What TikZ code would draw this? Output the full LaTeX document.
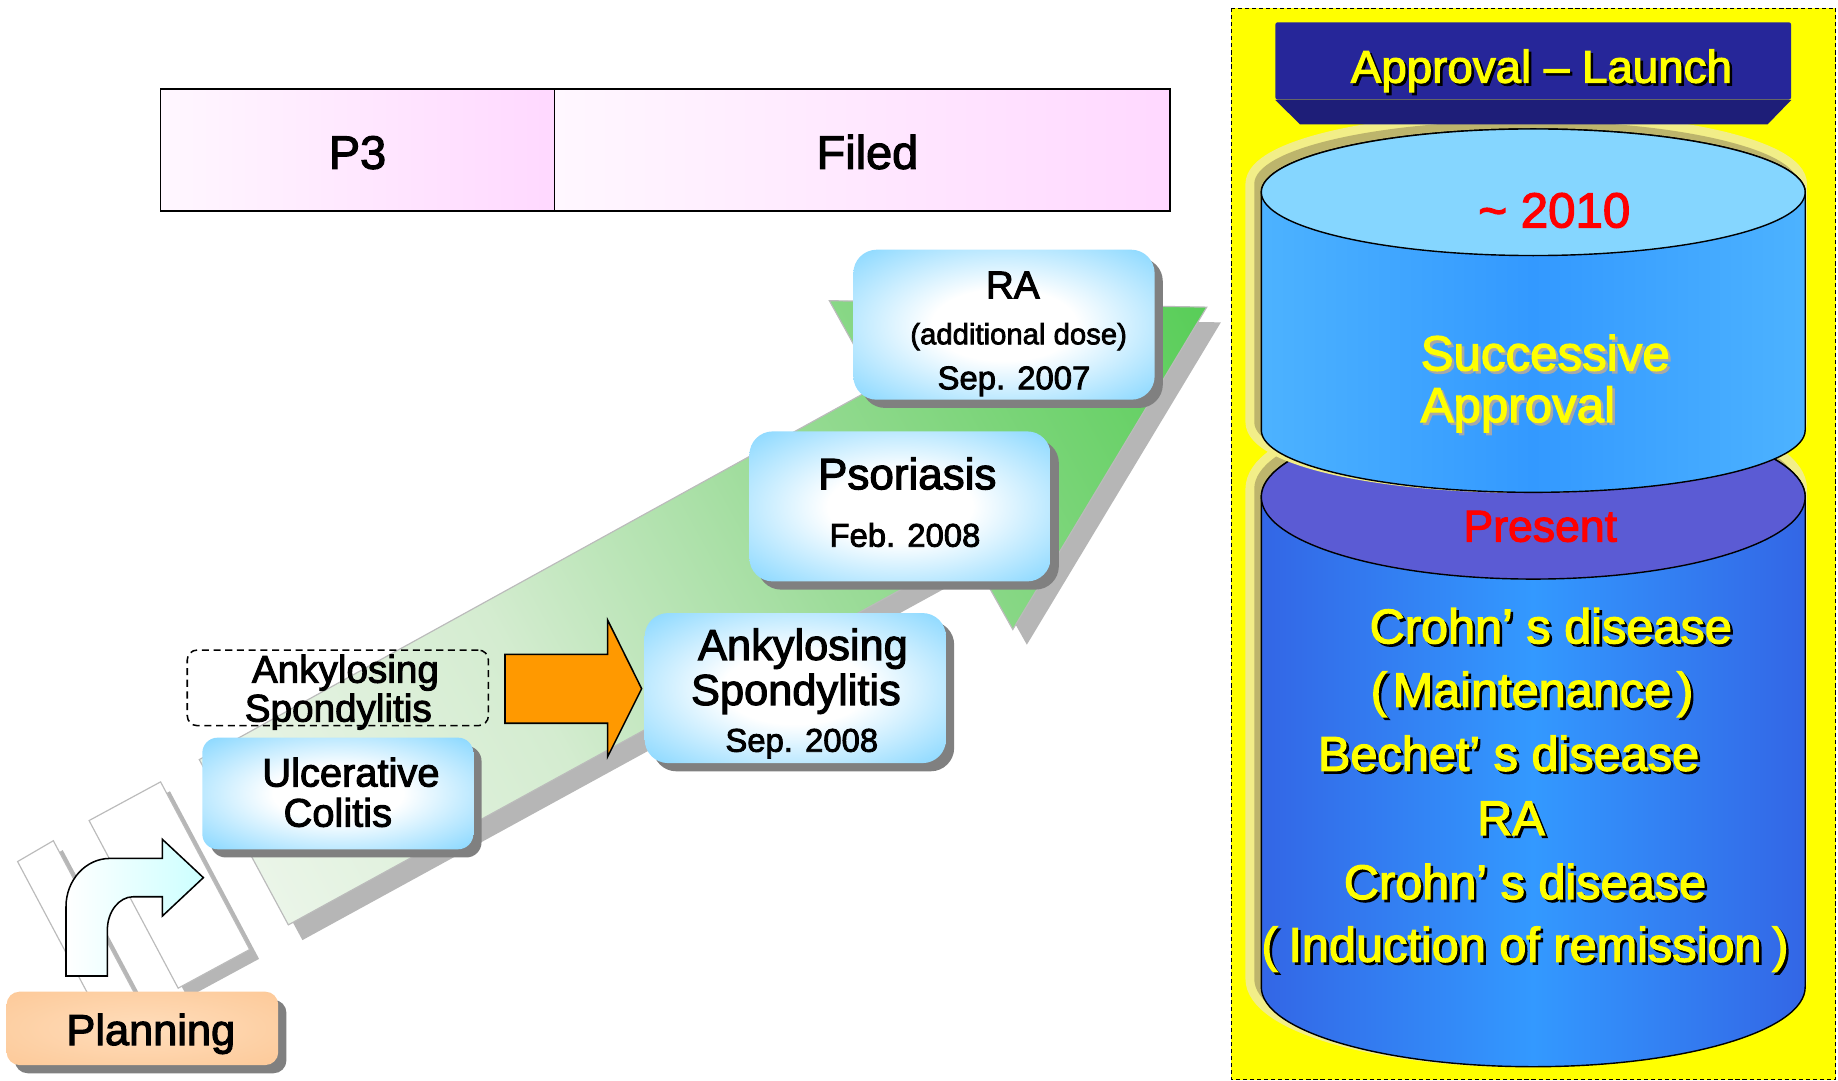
\documentclass[tikz,border=0pt]{standalone}
\usepackage{fontspec}
\setmainfont{Liberation Sans}[FakeBold=2.5]
\usetikzlibrary{shadows}

\definecolor{skyb}{HTML}{66CCFF}
\definecolor{pinkc}{HTML}{FFCCFF}
\definecolor{bandA}{HTML}{F4FAF2}
\definecolor{bandB}{HTML}{EDF6EB}
\definecolor{bandC}{HTML}{D4ECD0}
\definecolor{bandD}{HTML}{9DDC9A}
\definecolor{bandE}{HTML}{7CD57A}
\definecolor{bandF}{HTML}{50CC50}
\definecolor{bandgreen}{HTML}{33CC33}
\definecolor{softshadow}{HTML}{B6B6B6}
\definecolor{boxshadow}{HTML}{808080}
\definecolor{peach}{HTML}{FCC795}
\definecolor{peachlt}{HTML}{FFDDBB}
\definecolor{orangef}{HTML}{FF9900}
\definecolor{cupedge}{HTML}{66CCFF}
\definecolor{cupmid}{HTML}{3399FF}
\definecolor{cuptop}{HTML}{85D6FF}
\definecolor{cloedge}{HTML}{3333CC}
\definecolor{clomid}{HTML}{3399FF}
\definecolor{clotop}{HTML}{5B5BD4}
\definecolor{bannertop}{HTML}{262699}
\definecolor{bannerbevel}{HTML}{1E1E78}
\definecolor{khaki}{HTML}{BDB56C}
\definecolor{rim}{HTML}{F2EE88}
\definecolor{ylw}{HTML}{FFFF00}
\definecolor{redt}{HTML}{FF0000}
\definecolor{lightcyan}{HTML}{CCFFFF}
\definecolor{edgegray}{HTML}{BBBBBB}
\definecolor{succshadow}{HTML}{A8A8A8}

\pgfdeclareradialshading{boxglow}{\pgfpointorigin}{color(0bp)=(white); color(12bp)=(white); color(42bp)=(skyb); color(50bp)=(skyb)}
\pgfdeclareradialshading{peachglow}{\pgfpointorigin}{color(0bp)=(peachlt); color(40bp)=(peach); color(50bp)=(peach)}
\pgfdeclarehorizontalshading{pinkgrad}{100bp}{color(0bp)=(white); color(12bp)=(white); color(95bp)=(pinkc); color(100bp)=(pinkc)}
\pgfdeclarehorizontalshading{cylup}{100bp}{color(0bp)=(cupedge); color(50bp)=(cupmid); color(100bp)=(cupedge)}
\pgfdeclarehorizontalshading{cyllow}{100bp}{color(0bp)=(cloedge); color(50bp)=(clomid); color(100bp)=(cloedge)}
\pgfdeclareverticalshading{bandgrad}{100bp}{color(0bp)=(bandA); color(18bp)=(bandB); color(39bp)=(bandC); color(57bp)=(bandD); color(70bp)=(bandE); color(87bp)=(bandF); color(100bp)=(bandgreen)}

\newcommand{\fs}[1]{\fontsize{#1pt}{#1pt}\selectfont}
% name, x, y, size, shadow colour, text, anchor
\newcommand{\shlabel}[7]{%
  \node[lbl, anchor=#7, font=\fs{#4}, text=#5] (#1-sh) at (#2+2.2, #3+2.2) {#6};
  \node[lbl, anchor=#7, font=\fs{#4}, text=ylw] (#1) at (#2, #3) {#6};}

\begin{document}
\begin{tikzpicture}[x=1pt,y=-1pt,
  lbl/.style={anchor=base, inner sep=0pt, outer sep=0pt},
  bluebox/.style={shade, shading=boxglow, rounded corners=20pt, inner sep=0pt, outer sep=0pt,
     minimum width=257pt, minimum height=128pt,
     general shadow={fill=boxshadow, shadow xshift=7pt, shadow yshift=-7pt}},
  cell/.style={draw=black, line width=1.4pt, shade, shading=pinkgrad, inner sep=0pt, minimum height=104pt},
  pagerect/.style={fill=white, draw=edgegray, line width=1pt},
  softsh/.style={fill=softshadow},
  cylline/.style={draw=black, line width=1.2pt},
]
\useasboundingbox (0,0) rectangle (1568,922);

% ---------- phase bar ----------
\node[cell, minimum width=336pt] (p3box) at (305,128) {};
\node[cell, minimum width=525pt] (filedbox) at (735.5,128) {};
\node[lbl, font=\fs{40}] (p3t) at (305,144) {P3};
\node[lbl, font=\fs{40}] (filedt) at (740,144) {Filed};

% ---------- faded page rectangles ----------
\fill[softsh, shift={(8,8)}] (15,735) -- (45.5,717.2) -- (121.5,860) -- (91,878) -- cycle;
\draw[pagerect] (15,735) -- (45.5,717.2) -- (121.5,860) -- (91,878) -- cycle;
\fill[softsh, shift={(8,8)}] (76,700) -- (137,667) -- (213,810) -- (152,843) -- cycle;
\draw[pagerect] (76,700) -- (137,667) -- (213,810) -- (152,843) -- cycle;

% ---------- big green arrow ----------
\fill[softsh, shift={(12,13)}] (170,648) -- (748,329.5) -- (707.5,256.5) -- (1029.5,262) -- (864,537) -- (827,471) -- (246,789) -- cycle;
\shade[shading=bandgrad, shading angle=-61.1, draw=edgegray, line width=1pt]
  (170,648) -- (748,329.5) -- (707.5,256.5) -- (1029.5,262) -- (864,537) -- (827,471) -- (246,789) -- cycle;

% ---------- bent arrow ----------
\shade[left color=white, right color=lightcyan, draw=black, line width=1.3pt, line join=miter]
  (56.3,832.6) -- (56.3,773.5) .. controls (56.3,750.8) and (73.1,732.3) .. (93.8,732.3)
  -- (138.5,732.3) -- (138.5,716) -- (173.5,748.7) -- (138.5,781.5) -- (138.5,765)
  -- (113.7,765) .. controls (101.5,765) and (91.6,777.7) .. (91.6,793.4) -- (91.6,832.6) -- cycle;

% ---------- Planning ----------
\node[shade, shading=peachglow, rounded corners=11pt, minimum width=231.7pt, minimum height=62.6pt,
      inner sep=0pt, general shadow={fill=boxshadow, shadow xshift=7pt, shadow yshift=-7pt}]
      (planbox) at (121.5,877.3) {};
\node[lbl, font=\fs{37}] (plant) at (128.7,891.5) {Planning};

% ---------- Ulcerative Colitis ----------
\node[bluebox, rounded corners=13pt, minimum width=231.2pt, minimum height=95.2pt] (ucbox) at (288.2,676.9) {};
\node[lbl, font=\fs{34}] (uct1) at (299.4,671) {Ulcerative};
\node[lbl, font=\fs{34}] (uct2) at (288.2,705.2) {Colitis};

% ---------- dashed Ankylosing Spondylitis ----------
\node[draw, line width=1.3pt, dash pattern=on 6pt off 4pt, rounded corners=8.5pt,
      minimum width=256.9pt, minimum height=64.5pt, inner sep=0pt] (asdash) at (288.2,586.8) {};
\node[lbl, font=\fs{33}] (asd1) at (294.7,582.4) {Ankylosing};
\node[lbl, font=\fs{33}] (asd2) at (288.6,615.6) {Spondylitis};

% ---------- orange block arrow ----------
\draw[fill=orangef, line width=1.3pt, line join=miter]
  (430.8,558.2) -- (518.4,558.2) -- (518.4,529) -- (547.4,587.5) -- (518.4,645.5) -- (518.4,617) -- (430.8,617) -- cycle;

% ---------- filed items ----------
\node[bluebox] (asbox) at (678.5,587) {};
\node[lbl, font=\fs{37}] (ast1) at (685,563) {Ankylosing};
\node[lbl, font=\fs{37}] (ast2) at (679,601.4) {Spondylitis};
\node[lbl, font=\fs{28}] (ast3) at (684,641.3) {Sep. 2008};

\node[bluebox] (psbox) at (767.8,432) {};
\node[lbl, font=\fs{37.5}] (pst1) at (774,417.4) {Psoriasis};
\node[lbl, font=\fs{28}] (pst2) at (772,466.4) {Feb. 2008};

\node[bluebox] (rabox) at (856.5,277) {};
\node[lbl, font=\fs{33}] (rat1) at (864,254.5) {RA};
\node[lbl, font=\fs{25}] (rat2) at (869,293.7) {(additional dose)};
\node[lbl, font=\fs{28}] (rat3) at (865,332.1) {Sep. 2007};

% ---------- Approval - Launch panel ----------
\draw[fill=ylw, line width=1.2pt, dash pattern=on 3.5pt off 2.5pt] (1050.5,7) rectangle (1566,921);

% lower cylinder (present)
\begin{scope}[shift={(-6,-7)}]
  \fill[khaki, preaction={draw=rim, line width=15pt}]
    (1076,424) -- (1076,842) arc[start angle=180, end angle=0, x radius=232, y radius=68]
    -- (1540,424) arc[start angle=0, end angle=-180, x radius=232, y radius=70] -- cycle;
\end{scope}
\shade[shading=cyllow, cylline]
  (1076,424) -- (1076,842) arc[start angle=180, end angle=0, x radius=232, y radius=68]
  -- (1540,424) arc[start angle=0, end angle=-180, x radius=232, y radius=70] -- cycle;
\draw[cylline, fill=clotop] (1308,424) ellipse [x radius=232, y radius=70];

% upper cylinder (~2010)
\begin{scope}[shift={(-6,-7)}]
  \fill[khaki, preaction={draw=rim, line width=15pt}]
    (1076,164) -- (1076,367) arc[start angle=180, end angle=0, x radius=232, y radius=53]
    -- (1540,164) arc[start angle=0, end angle=-180, x radius=232, y radius=54] -- cycle;
\end{scope}
\shade[shading=cylup, cylline]
  (1076,164) -- (1076,367) arc[start angle=180, end angle=0, x radius=232, y radius=53]
  -- (1540,164) arc[start angle=0, end angle=-180, x radius=232, y radius=54] -- cycle;
\draw[cylline, fill=cuptop] (1308,164) ellipse [x radius=232, y radius=54];

% banner
\node[fill=bannertop, rounded corners=2pt, minimum width=440pt, minimum height=66pt, inner sep=0pt] (banner) at (1308,52) {};
\fill[bannerbevel] (banner.south west) -- (banner.south east) -- (1508,106) -- (1109,106) -- cycle;
\shlabel{approval}{1315}{70.5}{39}{black}{Approval – Launch}{base}

% texts in cylinders
\node[lbl, font=\fs{42}, text=redt] (year) at (1326,194) {\textasciitilde\ 2010};
\shlabel{succ}{1212}{316}{42}{succshadow}{Successive}{base west}
\shlabel{appr}{1212}{360}{42}{succshadow}{Approval}{base west}
\node[lbl, font=\fs{38}, text=redt] (present) at (1314,462) {Present};

\shlabel{l1}{1323}{548.8}{41.5}{black}{Crohn’ s disease}{base}
\shlabel{l2}{1307}{603}{41.5}{black}{(\kern.12em Maintenance\kern.12em)}{base}
\shlabel{l3}{1287}{657.5}{41.5}{black}{Bechet’ s disease}{base}
\shlabel{l4}{1289}{712.3}{41.5}{black}{RA}{base}
\shlabel{l5}{1301}{767}{41.5}{black}{Crohn’ s disease}{base}
\shlabel{l6}{1301}{820.4}{41.5}{black}{(\kern.22em Induction of remission\kern.22em)}{base}

\end{tikzpicture}
\end{document}
